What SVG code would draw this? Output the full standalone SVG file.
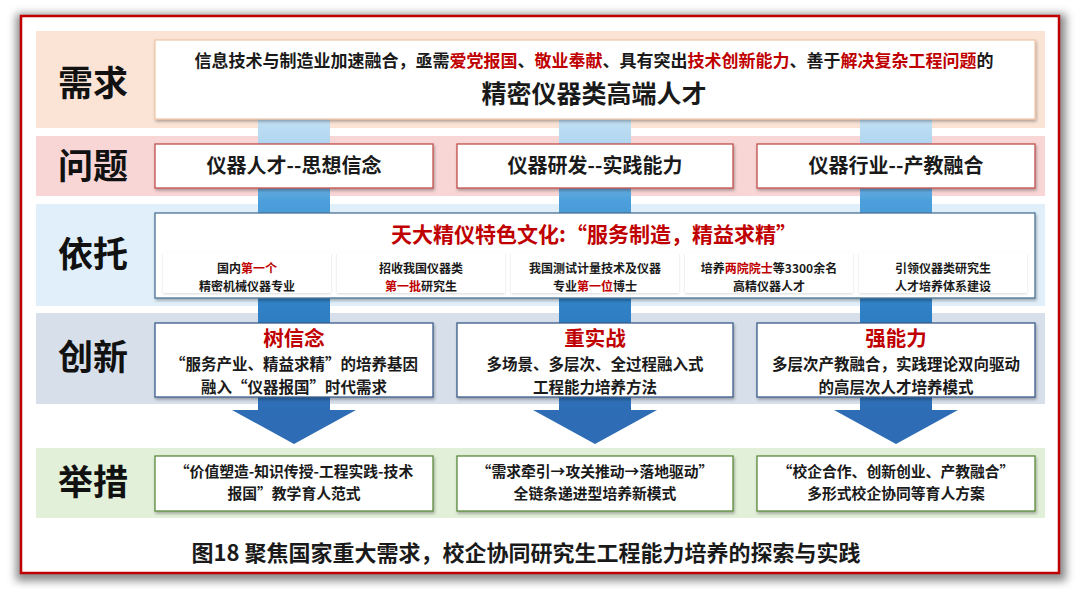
<svg xmlns="http://www.w3.org/2000/svg" width="1080" height="589" viewBox="0 0 1080 589">
<defs>
<style>
.t{font-family:'Noto Sans CJK SC','Noto Sans CJK JP',sans-serif;font-weight:700;text-anchor:middle;fill:#1a1a1a}
.lbl{font-size:35px;fill:#111}
.r{fill:#c00000}
.box{fill:#fff}
.s{font-size:12px}
.h{font-size:20.5px}
.b{font-size:15.5px}
.m{font-size:14.8px}
</style>
<filter id="frameSh" x="-5%" y="-5%" width="110%" height="110%"><feGaussianBlur stdDeviation="4"/></filter>
<filter id="sh" x="-5%" y="-10%" width="110%" height="130%"><feDropShadow dx="1" dy="2" stdDeviation="1.5" flood-color="#000" flood-opacity="0.3"/></filter>
<filter id="shl" x="-5%" y="-10%" width="110%" height="130%"><feDropShadow dx="0" dy="1" stdDeviation="1.2" flood-color="#000" flood-opacity="0.15"/></filter>
<linearGradient id="shaft" gradientUnits="userSpaceOnUse" x1="0" y1="119" x2="0" y2="412">
<stop offset="0" stop-color="#c2e0f4"/>
<stop offset="0.12" stop-color="#a9d2ee"/>
<stop offset="0.28" stop-color="#4c9fdb"/>
<stop offset="0.65" stop-color="#2f80c5"/>
<stop offset="1" stop-color="#2e6db6"/>
</linearGradient>
</defs>
<rect width="1080" height="589" fill="#fff"/>
<rect x="16" y="14" width="1050" height="567" fill="#8a8a8a" filter="url(#frameSh)"/>
<rect x="21" y="16" width="1038" height="557" fill="#fff" stroke="#c00000" stroke-width="2.5"/>

<g id="bands">
<rect x="36" y="31" width="1009" height="97" fill="#fbe4d6"/>
<rect x="36" y="136" width="1009" height="60" fill="#f8d6d6"/>
<rect x="36" y="204" width="1009" height="102" fill="#e0eff9"/>
<rect x="36" y="313" width="1009" height="91" fill="#d7dfea"/>
<rect x="36" y="448" width="1009" height="70" fill="#e2efd9"/>
</g>

<g id="connectors">
<path d="M258 119H330V410H356L294 444L232 410H258Z" fill="url(#shaft)"/>
<path d="M559 119H631V410H657L595 444L533 410H559Z" fill="url(#shaft)"/>
<path d="M860 119H932V410H958L896 444L834 410H860Z" fill="url(#shaft)"/>
</g>

<g id="labels">
<text class="t lbl" x="93" y="96">需求</text>
<text class="t lbl" x="93" y="179">问题</text>
<text class="t lbl" x="93" y="267">依托</text>
<text class="t lbl" x="93" y="370">创新</text>
<text class="t lbl" x="93" y="495">举措</text>
</g>

<g id="demand">
<rect x="155" y="40" width="880" height="79" class="box" stroke="#efc3a6" stroke-width="1.2" filter="url(#sh)"/>
<text class="t" x="594" y="67" font-size="17">信息技术与制造业加速融合，亟需<tspan class="r">爱党报国</tspan>、<tspan class="r">敬业奉献</tspan>、具有突出<tspan class="r">技术创新能力</tspan>、善于<tspan class="r">解决复杂工程问题</tspan>的</text>
<text class="t" x="594" y="103" font-size="25">精密仪器类高端人才</text>
</g>

<g id="problem1">
<rect x="155" y="144" width="278" height="44" class="box" stroke="#c0504d" stroke-width="1.3" filter="url(#sh)"/>
<text class="t" x="294" y="173" font-size="20">仪器人才--思想信念</text>
</g>
<g id="problem2">
<rect x="457" y="144" width="276" height="44" class="box" stroke="#c0504d" stroke-width="1.3" filter="url(#sh)"/>
<text class="t" x="595" y="173" font-size="20">仪器研发--实践能力</text>
</g>
<g id="problem3">
<rect x="757" y="144" width="278" height="44" class="box" stroke="#c0504d" stroke-width="1.3" filter="url(#sh)"/>
<text class="t" x="896" y="173" font-size="20">仪器行业--产教融合</text>
</g>

<g id="support">
<rect x="155" y="213" width="880" height="85" class="box" stroke="#4a7396" stroke-width="1.3" filter="url(#sh)"/>
<text class="t r" x="594" y="242" font-size="21">天大精仪特色文化:“服务制造，精益求精”</text>
<g id="support1">
<rect x="163" y="253" width="168" height="40" class="box" filter="url(#shl)"/>
<text class="t s" x="247" y="273">国内<tspan class="r">第一个</tspan></text>
<text class="t s" x="247" y="290.5">精密机械仪器专业</text>
</g>
<g id="support2">
<rect x="337" y="253" width="168" height="40" class="box" filter="url(#shl)"/>
<text class="t s" x="421" y="273">招收我国仪器类</text>
<text class="t s" x="421" y="290.5"><tspan class="r">第一批</tspan>研究生</text>
</g>
<g id="support3">
<rect x="511" y="253" width="168" height="40" class="box" filter="url(#shl)"/>
<text class="t s" x="595" y="273">我国测试计量技术及仪器</text>
<text class="t s" x="595" y="290.5">专业<tspan class="r">第一位</tspan>博士</text>
</g>
<g id="support4">
<rect x="685" y="253" width="168" height="40" class="box" filter="url(#shl)"/>
<text class="t s" x="769" y="273">培养<tspan class="r">两院院士</tspan>等3300余名</text>
<text class="t s" x="769" y="290.5">高精仪器人才</text>
</g>
<g id="support5">
<rect x="859" y="253" width="168" height="40" class="box" filter="url(#shl)"/>
<text class="t s" x="943" y="273">引领仪器类研究生</text>
<text class="t s" x="943" y="290.5">人才培养体系建设</text>
</g>
</g>

<g id="innovation1">
<rect x="155" y="323" width="278" height="74" class="box" stroke="#3c5c8a" stroke-width="1.3" filter="url(#sh)"/>
<text class="t r h" x="294" y="346">树信念</text>
<text class="t b" x="294" y="370">“服务产业、精益求精”的培养基因</text>
<text class="t b" x="294" y="392.5">融入“仪器报国”时代需求</text>
</g>
<g id="innovation2">
<rect x="457" y="323" width="276" height="74" class="box" stroke="#3c5c8a" stroke-width="1.3" filter="url(#sh)"/>
<text class="t r h" x="595" y="346">重实战</text>
<text class="t b" x="595" y="370">多场景、多层次、全过程融入式</text>
<text class="t b" x="595" y="392.5">工程能力培养方法</text>
</g>
<g id="innovation3">
<rect x="757" y="323" width="278" height="74" class="box" stroke="#3c5c8a" stroke-width="1.3" filter="url(#sh)"/>
<text class="t r h" x="896" y="346">强能力</text>
<text class="t b" x="896" y="370">多层次产教融合，实践理论双向驱动</text>
<text class="t b" x="896" y="392.5">的高层次人才培养模式</text>
</g>

<g id="measure1">
<rect x="155" y="456" width="278" height="55" class="box" stroke="#5a8a3c" stroke-width="1.3" filter="url(#sh)"/>
<text class="t m" x="294" y="477">“价值塑造-知识传授-工程实践-技术</text>
<text class="t m" x="294" y="498.5">报国”教学育人范式</text>
</g>
<g id="measure2">
<rect x="457" y="456" width="276" height="55" class="box" stroke="#5a8a3c" stroke-width="1.3" filter="url(#sh)"/>
<text class="t m" x="595" y="477">“需求牵引→攻关推动→落地驱动”</text>
<text class="t m" x="595" y="498.5">全链条递进型培养新模式</text>
</g>
<g id="measure3">
<rect x="757" y="456" width="278" height="55" class="box" stroke="#5a8a3c" stroke-width="1.3" filter="url(#sh)"/>
<text class="t m" x="896" y="477">“校企合作、创新创业、产教融合”</text>
<text class="t m" x="896" y="498.5">多形式校企协同等育人方案</text>
</g>

<text class="t" x="526" y="561" font-size="22">图18 聚焦国家重大需求，校企协同研究生工程能力培养的探索与实践</text>
</svg>
